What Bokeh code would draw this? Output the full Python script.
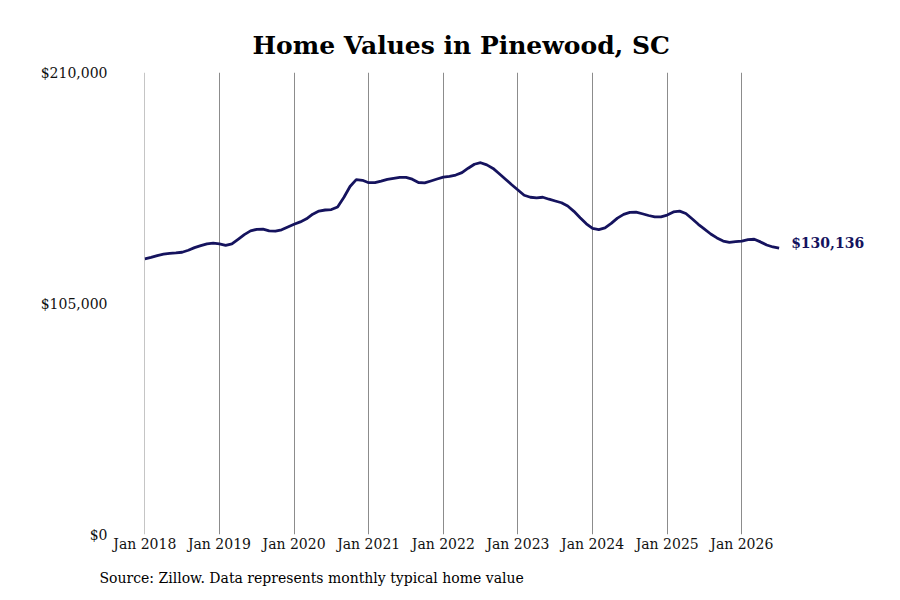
from bokeh.plotting import figure
from bokeh.models import Range1d, FixedTicker, Label, NumeralTickFormatter, Title
from bokeh.embed import file_html
from bokeh.resources import INLINE

# monthly typical home value, Jan 2018 .. Jul 2026 (thousands of dollars)
home_values = [
    125.3, 126.0, 126.8, 127.4, 127.8, 128.0, 128.3, 129.2, 130.4, 131.3, 132.1, 132.4,
    132.1, 131.4, 132.1, 134.2, 136.3, 138.0, 138.7, 138.8, 138.0, 137.9, 138.5, 139.8,
    141.0, 142.1, 143.5, 145.6, 147.0, 147.5, 147.7, 148.9, 153.2, 158.2, 161.3, 161.0,
    159.9, 159.9, 160.6, 161.4, 161.9, 162.3, 162.3, 161.5, 160.0, 159.8, 160.7, 161.6,
    162.4, 162.8, 163.4, 164.5, 166.5, 168.3, 169.0, 168.0, 166.4, 164.0, 161.5, 159.0,
    156.6, 154.2, 153.3, 153.0, 153.3, 152.4, 151.6, 150.8, 149.3, 146.9, 144.0, 141.2,
    139.1, 138.6, 139.4, 141.4, 143.8, 145.5, 146.4, 146.5, 145.8, 145.0, 144.4, 144.4,
    145.2, 146.6, 147.0, 145.9, 143.5, 141.0, 138.8, 136.6, 134.8, 133.4, 132.8, 133.1,
    133.4, 134.0, 134.2, 133.0, 131.6, 130.7, 130.136,
]
months = list(range(len(home_values)))
dollars = [v * 1000 for v in home_values]

year_ticks = [0, 12, 24, 36, 48, 60, 72, 84, 96]
year_labels = ["Jan 2018", "Jan 2019", "Jan 2020", "Jan 2021", "Jan 2022",
               "Jan 2023", "Jan 2024", "Jan 2025", "Jan 2026"]
value_ticks = [0, 105000, 210000]

last_label = "$130,136"
FONT = "DejaVu Serif"
NAVY = "#15135e"

p = figure(width=900, height=600, output_backend="svg", toolbar_location=None,
           x_range=Range1d(-0.05, 118.3), y_range=Range1d(0, 210000),
           min_border_left=144, min_border_right=20, min_border_top=72,
           min_border_bottom=66)
p.outline_line_color = None
p.background_fill_color = "white"
p.border_fill_color = "white"

p.title.text = "Home Values in Pinewood, SC"
p.title.text_font = FONT
p.title.text_font_size = "25px"
p.title.align = "left"
p.title.offset = 108
p.title.standoff = 26
p.title.text_color = "black"

p.xaxis.ticker = FixedTicker(ticks=year_ticks)
p.xaxis.major_label_overrides = dict(zip(year_ticks, year_labels))
p.yaxis.ticker = FixedTicker(ticks=value_ticks)
p.yaxis.formatter = NumeralTickFormatter(format="$0,0")
for ax in (p.xaxis, p.yaxis):
    ax.axis_line_color = None
    ax.major_tick_line_color = None
    ax.minor_tick_line_color = None
    ax.major_tick_out = 0
    ax.major_tick_in = 0
    ax.major_label_text_font = FONT
    ax.major_label_text_font_size = "14px"
    ax.major_label_text_color = "#111111"
p.xaxis.major_label_standoff = 1
p.yaxis.major_label_standoff = 37

p.xgrid.grid_line_color = "#8c8c8c"
p.xgrid.grid_line_width = 1
p.ygrid.grid_line_color = None

p.line(months, dollars, line_color=NAVY, line_width=2.8)

p.add_layout(Label(x=months[-1], y=dollars[-1], text=last_label, x_offset=12,
                   text_baseline="middle", text_font=FONT, text_font_style="bold",
                   text_font_size="14px", text_color=NAVY, y_offset=5))

src = Title(text="Source: Zillow. Data represents monthly typical home value",
            text_font=FONT, text_font_size="14px", text_font_style="normal",
            text_color="black", align="left", offset=-45, standoff=26)
p.add_layout(src, "below")

open("out.html", "w").write(file_html(p, INLINE))
